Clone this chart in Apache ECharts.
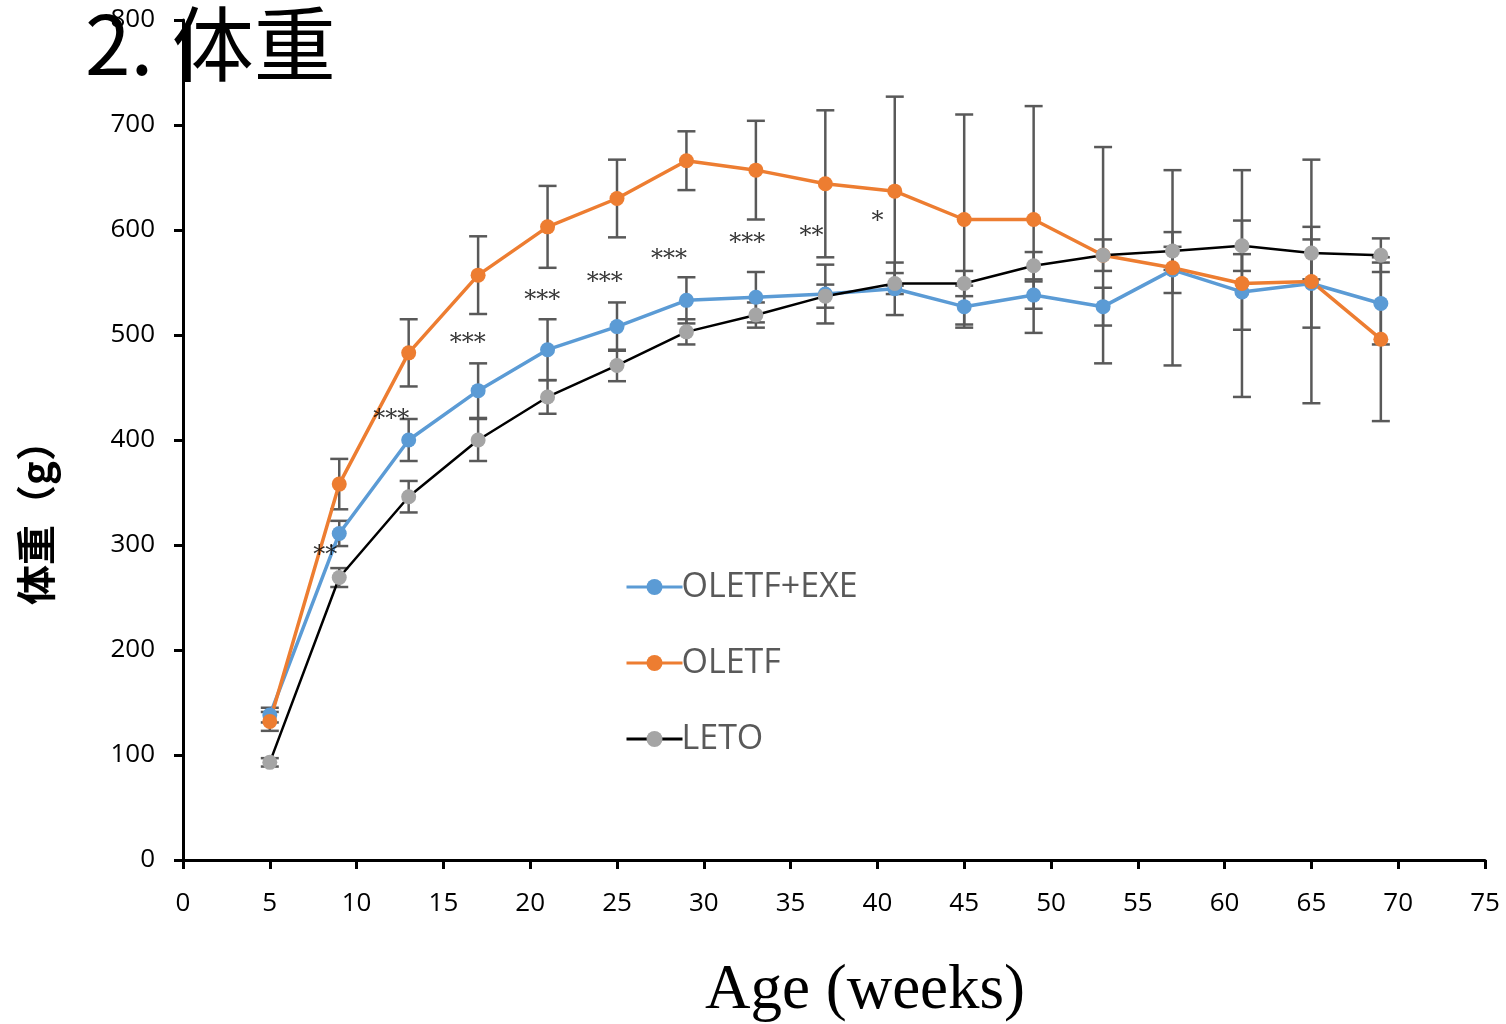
<!DOCTYPE html>
<html>
<head>
<meta charset="utf-8">
<script src="https://cdn.jsdelivr.net/npm/echarts@6/dist/echarts.min.js"></script>
<style>
  html, body { margin: 0; padding: 0; background: #fff; }
  #chart { width: 1506px; height: 1024px; }
</style>
</head>
<body>
<div id="chart"></div>
<script>
const weeks = [5, 9, 13, 17, 21, 25, 29, 33, 37, 41, 45, 49, 53, 57, 61, 65, 69];

const exeMean = [138, 311, 400, 447, 486, 508, 533, 536, 539, 544, 527, 538, 527, 562, 541, 549, 530];
const exeSd   = [7, 12, 20, 26, 29, 23, 22, 24, 28, 25, 20, 13, 18, 22, 36, 42, 39];

const oletfMean = [132, 358, 483, 557, 603, 630, 666, 657, 644, 637, 610, 610, 576, 564, 549, 551, 496];
const oletfSd   = [9, 24, 32, 37, 39, 37, 28, 47, 70, 90, 100, 108, 103, 93, 108, 116, 78];

const letoMean = [93, 269, 346, 400, 441, 471, 503, 519, 537, 549, 549, 566, 576, 580, 585, 578, 576];
const letoSd   = [4, 9, 15, 20, 16, 15, 12, 12, 11, 10, 12, 13, 15, 18, 24, 25, 16];

// significance marks: [week, weight, text]
const marks = [
  [8.2, 290, "**"],
  [12.0, 419, "***"],
  [16.4, 492, "***"],
  [20.7, 533, "***"],
  [24.3, 550, "***"],
  [28.0, 572, "***"],
  [32.5, 587, "***"],
  [36.2, 594, "**"],
  [40.0, 608, "*"],
];

const xTicks = { min: 0, max: 75, interval: 5 };
const yTicks = { min: 0, max: 800, interval: 100 };

const errorBars = (mean, sd, name) => ({
  type: "custom",
  name: name + " sd",
  z: 1,
  silent: true,
  data: weeks.map((w, i) => [w, mean[i] - sd[i], mean[i] + sd[i]]),
  renderItem: (params, api) => {
    const lo = api.coord([api.value(0), api.value(1)]);
    const hi = api.coord([api.value(0), api.value(2)]);
    const cap = 9;
    const style = { stroke: "#595959", lineWidth: 2.5 };
    return {
      type: "group",
      children: [
        { type: "line", shape: { x1: lo[0], y1: lo[1], x2: hi[0], y2: hi[1] }, style },
        { type: "line", shape: { x1: lo[0] - cap, y1: lo[1], x2: lo[0] + cap, y2: lo[1] }, style },
        { type: "line", shape: { x1: hi[0] - cap, y1: hi[1], x2: hi[0] + cap, y2: hi[1] }, style },
      ],
    };
  },
});

const lineSeries = (name, mean, lineColor, dotColor, width) => ({
  name,
  type: "line",
  z: 3,
  data: weeks.map((w, i) => [w, mean[i]]),
  symbol: "circle",
  symbolSize: 15,
  showSymbol: true,
  lineStyle: { color: lineColor, width },
  itemStyle: { color: dotColor },
  emphasis: { disabled: true },
});

const chart = echarts.init(document.getElementById("chart"));
window.addEventListener("resize", () => chart.resize());

chart.setOption({
  animation: false,
  title: {
    text: "2. 体重",
    left: 80,
    top: -2,
    textStyle: {
      fontFamily: "Noto Sans CJK JP",
      fontSize: 82,
      fontWeight: "normal",
      color: "#000",
    },
    z: 10,
  },
  graphic: [
    {
      type: "text",
      x: 16,
      y: 513,
      rotation: Math.PI / 2,
      style: {
        text: "体重（g）",
        fontFamily: "Noto Sans CJK JP",
        fontSize: 40,
        fontWeight: "bold",
        fill: "#000",
        align: "center",
        verticalAlign: "top",
      },
    },
  ],
  grid: { left: 183, right: 21, top: 20, bottom: 164, outerBoundsMode: "none", containLabel: false },
  legend: {
    orient: "vertical",
    left: 620,
    top: 565,
    itemGap: 42,
    itemWidth: 56,
    itemHeight: 20,
    data: ["OLETF+EXE", "OLETF", "LETO"],
    lineStyle: { width: 3 },
    textStyle: { fontFamily: "Open Sans", fontSize: 34, color: "#595959", padding: [0, 0, 0, -6] },
  },
  xAxis: {
    type: "value",
    ...xTicks,
    name: "Age (weeks)",
    nameLocation: "middle",
    nameGap: 100,
    nameTextStyle: { fontFamily: "Liberation Serif", fontSize: 63, color: "#000", padding: [0, 0, 0, 62] },
    axisLine: { lineStyle: { color: "#000", width: 3 } },
    axisTick: { inside: false, length: 9, lineStyle: { color: "#000", width: 3 } },
    axisLabel: { fontFamily: "Open Sans", fontSize: 26, color: "#000", margin: 31 },
    splitLine: { show: false },
  },
  yAxis: {
    type: "value",
    ...yTicks,
    axisLine: { show: true, lineStyle: { color: "#000", width: 3 } },
    axisTick: { show: true, length: 9, lineStyle: { color: "#000", width: 3 } },
    axisLabel: { fontFamily: "Open Sans", fontSize: 26, color: "#000", margin: 28 },
    splitLine: { show: false },
  },
  series: [
    errorBars(exeMean, exeSd, "OLETF+EXE"),
    errorBars(oletfMean, oletfSd, "OLETF"),
    errorBars(letoMean, letoSd, "LETO"),
    lineSeries("OLETF+EXE", exeMean, "#5B9BD5", "#5B9BD5", 3.5),
    lineSeries("OLETF", oletfMean, "#ED7D31", "#ED7D31", 3.5),
    lineSeries("LETO", letoMean, "#000000", "#A5A5A5", 2.5),
    {
      type: "scatter",
      name: "marks",
      z: 5,
      silent: true,
      symbolSize: 0,
      data: marks.map((m) => [m[0], m[1], m[2]]),
      label: {
        show: true,
        position: "inside",
        formatter: (p) => p.value[2],
        fontFamily: "DejaVu Serif",
        fontSize: 24,
        color: "#000",
      },
    },
  ],
});
</script>
</body>
</html>
